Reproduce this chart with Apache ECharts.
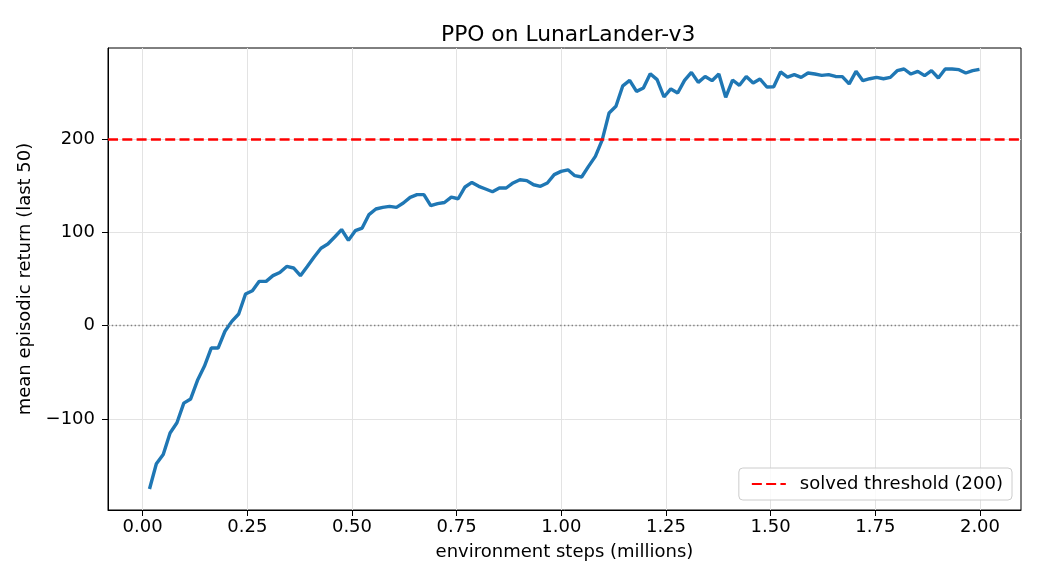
<!DOCTYPE html>
<html>
<head>
<meta charset="utf-8">
<title>PPO on LunarLander-v3</title>
<script src="https://cdn.jsdelivr.net/npm/echarts@6/dist/echarts.min.js"></script>
<style>
  html, body { margin: 0; padding: 0; background: #fff; }
  #chart { width: 1040px; height: 585px; }
</style>
</head>
<body>
<div id="chart"></div>
<script>
// ---- data ----
const STEPS_PER_UPDATE = 16384; // one point per PPO update
const MEAN_RETURN = [
  -175, -148, -138, -115, -104, -83, -78.5, -58.6, -43.6, -24,
  -24, -6, 4.6, 12.5, 34, 37.5, 47.5, 47.5, 53.6, 57,
  63.5, 61.8, 53.6, 63.5, 73.6, 83, 87.5, 95, 103, 91.4,
  101.8, 104.6, 119, 125, 126.8, 127.8, 126.8, 131.4, 137.5, 140.4,
  140.4, 128.6, 130.7, 132, 137.8, 136, 148.6, 153.5, 149.3, 146.4,
  143.5, 147.5, 147.5, 152.9, 156.4, 155.4, 151, 149.3, 152.9, 161.8,
  165.3, 167, 160.7, 159.3, 170.7, 181.4, 199, 227.9, 235, 257,
  262.8, 251, 254.6, 270, 263.6, 245, 253.6, 249.3, 262.8, 271.4,
  260.7, 267, 262.5, 269.6, 244.6, 263.2, 257.5, 267, 260, 264.3,
  255.7, 256, 271.8, 266.4, 269, 266, 270.7, 269.6, 268.2, 269,
  267, 266.8, 259, 272.5, 262.5, 264.6, 266, 264.6, 266, 273.2,
  275, 269.6, 272.5, 267.9, 273.2, 265.4, 275, 275, 274.3, 270.7,
  273.2, 274.6
];
const THRESHOLD = 200;
const THRESHOLD_NAME = "solved threshold (200)";
const X_TICKS = [0, 0.25, 0.5, 0.75, 1.0, 1.25, 1.5, 1.75, 2.0];
const Y_TICKS = [-100, 0, 100, 200];

// ---- build series points ----
const points = MEAN_RETURN.map((v, i) => [(i + 1) * STEPS_PER_UPDATE / 1e6, v]);

// matplotlib-like 5% margins
const xs = points.map(p => p[0]);
const xSpan = Math.max(...xs) - Math.min(...xs);
const xMin = Math.min(...xs) - 0.05 * xSpan;
const xMax = Math.max(...xs) + 0.05 * xSpan;
const ySpan = Math.max(...MEAN_RETURN) - Math.min(...MEAN_RETURN);
const yMin = Math.min(...MEAN_RETURN) - 0.05 * ySpan;
const yMax = Math.max(...MEAN_RETURN) + 0.05 * ySpan;

const FONT = "DejaVu Sans";
const chart = echarts.init(document.getElementById("chart"), null, { renderer: "canvas" });

chart.setOption({
  animation: false,
  textStyle: { fontFamily: FONT },
  title: {
    text: "PPO on LunarLander-v3",
    left: 436,
    top: 19,
    textStyle: { fontFamily: FONT, fontSize: 21.8, fontWeight: "normal", color: "#000" }
  },
  grid: {
    left: 108, right: 19, top: 48, bottom: 75,
    show: true, borderColor: "#000", borderWidth: 1, backgroundColor: "#fff"
  },
  legend: {
    data: [THRESHOLD_NAME],
    right: 28,
    bottom: 85,
    orient: "vertical",
    itemWidth: 34,
    itemHeight: 14,
    itemStyle: { opacity: 0 },
    padding: [7, 9, 7, 12],
    backgroundColor: "rgba(255,255,255,0.8)",
    borderColor: "#cccccc",
    borderWidth: 1,
    borderRadius: 4,
    textStyle: { fontFamily: FONT, fontSize: 18, color: "#000", padding: [0, 0, 0, 9] }
  },
  xAxis: {
    type: "value",
    min: xMin,
    max: xMax,
    name: "environment steps (millions)",
    nameLocation: "middle",
    nameGap: 33,
    nameTextStyle: { fontFamily: FONT, fontSize: 18, color: "#000" },
    axisLine: { show: true, onZero: false, lineStyle: { color: "#000", width: 1 } },
    axisTick: { show: true, length: 6, lineStyle: { color: "#000" }, customValues: X_TICKS },
    axisLabel: {
      customValues: X_TICKS, margin: 8, fontFamily: FONT, fontSize: 18, color: "#000",
      formatter: v => v.toFixed(2)
    },
    splitLine: { show: true, lineStyle: { color: "#e3e3e3", width: 1 } }
  },
  yAxis: {
    type: "value",
    min: yMin,
    max: yMax,
    name: "mean episodic return (last 50)",
    nameLocation: "middle",
    nameGap: 70,
    nameTextStyle: { fontFamily: FONT, fontSize: 18, color: "#000" },
    axisLine: { show: true, onZero: false, lineStyle: { color: "#000", width: 1 } },
    axisTick: { show: true, length: 6, lineStyle: { color: "#000" }, customValues: Y_TICKS },
    axisLabel: {
      customValues: Y_TICKS, margin: 13, fontFamily: FONT, fontSize: 18, color: "#000",
      formatter: v => String(Math.round(v)).replace("-", "\u2212")
    },
    splitLine: { show: true, lineStyle: { color: "#e3e3e3", width: 1 } }
  },
  series: [
    {
      name: "PPO",
      type: "line",
      data: points,
      showSymbol: false,
      symbol: "none",
      lineStyle: { color: "#1f77b4", width: 3.4 },
      itemStyle: { color: "#1f77b4" },
      z: 3,
      markLine: {
        silent: true,
        symbol: ["none", "none"],
        label: { show: false },
        lineStyle: { color: "#808080", width: 1.3, type: [1.4, 2.4] },
        data: [{ yAxis: 0 }]
      }
    },
    {
      name: THRESHOLD_NAME,
      type: "line",
      data: [],
      symbol: "none",
      lineStyle: { color: "#ff0000", width: 2.6, type: [10, 4.3] },
      itemStyle: { color: "#ff0000" },
      z: 4,
      markLine: {
        silent: true,
        symbol: ["none", "none"],
        label: { show: false },
        lineStyle: { color: "#ff0000", width: 2.6, type: [10, 4.3] },
        data: [{ yAxis: THRESHOLD }]
      }
    }
  ]
});
</script>
</body>
</html>
